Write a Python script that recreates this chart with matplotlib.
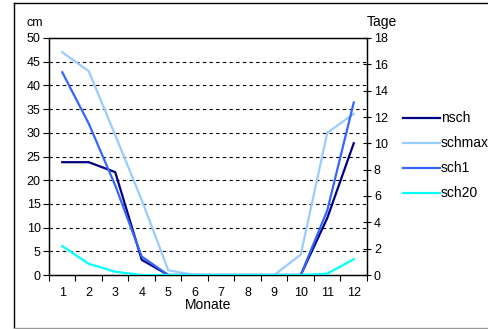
import matplotlib
matplotlib.use("Agg")
import matplotlib.pyplot as plt
from matplotlib.lines import Line2D
import numpy as np

plt.rcParams['font.family'] = ['Liberation Sans', 'DejaVu Sans']

months = [1, 2, 3, 4, 5, 6, 7, 8, 9, 10, 11, 12]
month_labels = [str(m) for m in months]

# snow depths in cm (left axis)
nsch = [23.8, 23.8, 21.7, 3.2, 0, 0, 0, 0, 0, 0, 12.0, 27.8]
schmax = [47.0, 43.0, 29.5, 15.8, 1.0, 0, 0, 0, 0, 4.3, 30.0, 34.0]
# snow days (right axis)
sch1 = [15.4, 11.5, 6.8, 1.4, 0, 0, 0, 0, 0, 0, 4.9, 13.1]
sch20 = [2.2, 0.85, 0.25, 0, 0, 0, 0, 0, 0, 0, 0.1, 1.2]

c_nsch = '#000080'
c_schmax = '#99CCFF'
c_sch1 = '#3366FF'
c_sch20 = '#00FFFF'

W, H = 489, 329
fig = plt.figure(figsize=(W / 100, H / 100), dpi=100)

# outer frame
fig.add_artist(Line2D([14 / W, 14 / W], [1 - 3 / H, 1 - 328 / H], color='black', lw=1.0))
fig.add_artist(Line2D([14 / W, 1.0], [1 - 3 / H, 1 - 3 / H], color='black', lw=1.0))
fig.add_artist(Line2D([14 / W, 1.0], [1 - 328 / H, 1 - 328 / H], color='#999999', lw=1.0))

x0, x1, y0, y1 = 49, 367, 38, 275
ax = fig.add_axes([x0 / W, 1 - y1 / H, (x1 - x0) / W, (y1 - y0) / H])
ax2 = ax.twinx()

lw = 1.6
ax.plot(months, nsch, color=c_nsch, lw=lw, zorder=3)
ax.plot(months, schmax, color=c_schmax, lw=lw, zorder=3)
ax2.plot(months, sch1, color=c_sch1, lw=lw, zorder=3)
ax2.plot(months, sch20, color=c_sch20, lw=lw, zorder=3)

ax.set_xlim(0.5, 12.5)
ax.set_ylim(0, 50)
ax2.set_ylim(0, 18)

ax.set_yticks(np.arange(0, 51, 5))
ax2.set_yticks(np.arange(0, 19, 2))
ax.set_xticks(months)
ax.set_xticklabels(month_labels)
ax.set_xticks(np.arange(0.5, 12.6, 1), minor=True)
ax.tick_params(axis='x', which='major', length=0, labelsize=9, pad=9)
ax.tick_params(axis='x', which='minor', length=4, direction='out', width=0.8)
ax.tick_params(axis='y', length=4, direction='out', width=0.8, labelsize=9, pad=2)
ax2.tick_params(axis='y', length=6, direction='inout', width=0.8, labelsize=9, pad=2)

for v in np.arange(5, 50, 5):
    ax.axhline(v, color='black', lw=0.8, ls=(0, (3, 3)), zorder=1)

for a in (ax, ax2):
    for s in a.spines.values():
        s.set_color('black')
        s.set_linewidth(0.9)

ax.set_xlabel('Monate', fontsize=10, labelpad=-1)

fig.text(27 / W, 1 - 23 / H, 'cm', fontsize=9, va='center', ha='left')
fig.text(367 / W, 1 - 22 / H, 'Tage', fontsize=10, va='center', ha='left')

# legend at the right
legend_items = [('nsch', c_nsch), ('schmax', c_schmax), ('sch1', c_sch1), ('sch20', c_sch20)]
for i, (name, col) in enumerate(legend_items):
    yy = 1 - (118 + 25 * i) / H
    fig.add_artist(Line2D([403 / W, 440 / W], [yy, yy], color=col, lw=1.6))
    fig.text(441 / W, yy, name, fontsize=10, va='center', ha='left')

fig.savefig('out.png', dpi=100)
